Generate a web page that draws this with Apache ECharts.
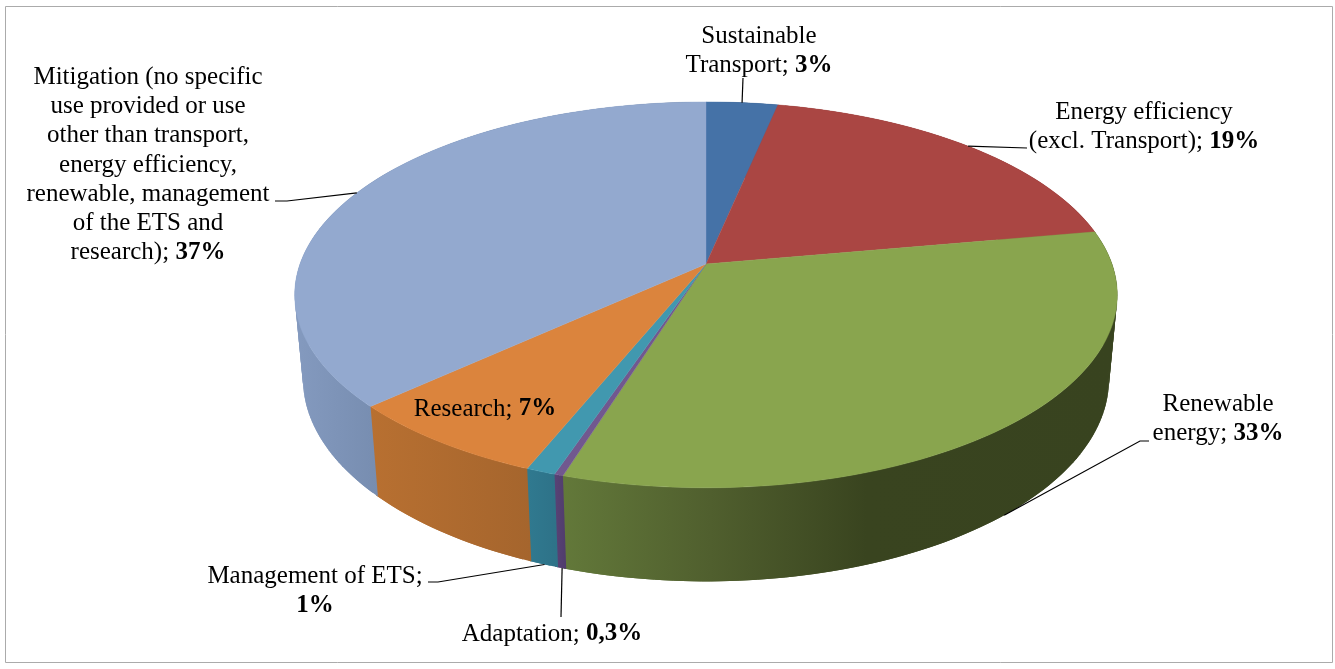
<!DOCTYPE html>
<html>
<head>
<meta charset="utf-8">
<title>Pie chart</title>
<style>
  html, body { margin: 0; padding: 0; background: #fff; }
  #pie-chart { width: 1335px; height: 669px; }
</style>
</head>
<body>
<div id="pie-chart"></div>
<script src="https://cdn.jsdelivr.net/npm/echarts@6/dist/echarts.min.js"></script>
<script>
// data
const labelNames = [
  'Sustainable\nTransport; ',
  'Energy efficiency\n(excl. Transport); ',
  'Renewable\nenergy; ',
  'Adaptation; ',
  'Management of ETS;\n',
  'Research; ',
  'Mitigation (no specific\nuse provided or use\nother than transport,\nenergy efficiency,\nrenewable, management\nof the ETS and\nresearch); '
];
const percentLabels = ['3%', '19%', '33%', '0,3%', '1%', '7%', '37%'];
const shares = [3.3, 19, 32.8, 0.3, 1, 7.1, 37];

// colours
const topColors = ['#4572A7', '#AA4643', '#89A54E', '#71588F', '#4198AF', '#DB843D', '#93A9CF'];
const sideStops = [
  [[0, '#3A5F8C'], [1, '#3A5F8C']],
  [[0, '#8E3A38'], [1, '#8E3A38']],
  [[0, '#63793A'], [0.27, '#505F2E'], [0.55, '#39441F'], [1, '#38431F']],
  [[0, '#5A4478'], [1, '#503C6C']],
  [[0, '#307A90'], [1, '#2E7288']],
  [[0, '#B87031'], [1, '#A5652D']],
  [[0, '#849ABF'], [0.2, '#778DB0'], [1, '#778DB0']]
];

// perspective of the disc: apex on screen, half sizes, tilt, thickness
const apexX = 706, apexY = 264;
const discA = 406, discB = 188, tilt = 0.16;
const depthY = 85, depthW = 0.02;

// label block centres and where each leader line goes after leaving the rim
const labelBoxes = [
  { x: 759, y: 51, to: [[743, 78]], front: false },
  { x: 1144, y: 127, to: [[1027, 148]], front: false },
  { x: 1218, y: 419, to: [[1140, 441], [1149, 441]], front: true },
  { x: 552, y: 634, to: [[561, 617]], front: true },
  { x: 315, y: 591, to: [[438, 582], [428, 582]], front: true },
  { x: 485, y: 409, to: null },
  { x: 148, y: 165, to: [[287, 201], [275, 201]], front: false }
];

const total = shares.reduce((a, b) => a + b, 0);

// project a point on the rim (angle clockwise from 12 o'clock), bottom=true for the lower disc
function rimPoint(angle, bottom) {
  const u = Math.sin(angle);
  const v = -Math.cos(angle);
  const w = 1 - tilt * v + (bottom ? depthW : 0);
  return [apexX + discA * u / w, apexY + (discB * v + (bottom ? depthY : 0)) / w];
}

function arcPoints(start, end, bottom) {
  const steps = Math.max(2, Math.ceil((end - start) / 0.02));
  const pts = [];
  for (let i = 0; i <= steps; i++) {
    pts.push(rimPoint(start + (end - start) * i / steps, bottom));
  }
  return pts;
}

function renderSlice(params, api) {
  const i = params.dataIndex;
  let before = 0;
  for (let k = 0; k < i; k++) before += shares[k];
  const start = before / total * Math.PI * 2;
  const end = (before + api.value(0)) / total * Math.PI * 2;
  const mid = (start + end) / 2;

  const topArc = arcPoints(start, end, false);
  // the wall runs a little past the slice, the next slice paints over it and no seam shows
  const wallTop = arcPoints(start, end + 0.006, false);
  const wallLow = arcPoints(start, end + 0.006, true);
  const children = [];

  // wall of the cylinder, overlapping quads so the tangent edges at the far left and right fill in
  const xs = wallTop.concat(wallLow).map(p => p[0]);
  const wallFill = {
    type: 'linear',
    global: true,
    x: Math.min.apply(null, xs),
    y: 0,
    x2: Math.max.apply(null, xs),
    y2: 0,
    colorStops: sideStops[i].map(s => ({ offset: s[0], color: s[1] }))
  };
  for (let s = 0; s < wallTop.length - 1; s++) {
    const e = Math.min(s + 2, wallTop.length - 1);
    children.push({
      type: 'polygon',
      z2: 1,
      shape: { points: [wallTop[s], wallTop[e], wallLow[e], wallLow[s]] },
      style: { fill: wallFill }
    });
  }

  // top face
  children.push({
    type: 'polygon',
    z2: 10,
    shape: { points: [[apexX, apexY]].concat(topArc) },
    style: { fill: topColors[i], stroke: topColors[i], lineWidth: 0.4 }
  });

  // leader line from the rim at the middle of the slice
  const box = labelBoxes[i];
  if (box.to) {
    children.push({
      type: 'polyline',
      z2: 20,
      shape: { points: [rimPoint(mid, box.front)].concat(box.to) },
      style: { fill: null, stroke: '#000', lineWidth: 1.2 }
    });
  }

  // label, the percentage is bold
  const rows = labelNames[i].split('\n');
  const last = rows.length - 1;
  const text = rows.map((row, r) => {
    const name = row ? '{n|' + row + '}' : '';
    return r === last ? name + '{b|' + percentLabels[i] + '}' : name;
  }).join('\n');
  children.push({
    type: 'text',
    z2: 30,
    style: {
      x: box.x,
      y: box.y,
      text: text,
      align: 'center',
      verticalAlign: 'middle',
      rich: {
        n: { fontFamily: 'Liberation Serif', fontSize: 25, lineHeight: 29.3, fill: '#000', color: '#000' },
        b: { fontFamily: 'Liberation Serif', fontSize: 25, lineHeight: 29.3, fontWeight: 'bold', fill: '#000', color: '#000' }
      }
    }
  });

  return { type: 'group', children: children };
}

const chart = echarts.init(document.getElementById('pie-chart'), null, { renderer: 'canvas' });
chart.setOption({
  animation: false,
  backgroundColor: '#fff',
  graphic: [{
    type: 'rect',
    silent: true,
    shape: { x: 5.5, y: 6.5, width: 1327, height: 656 },
    style: { fill: null, stroke: '#ababab', lineWidth: 1 }
  }],
  series: [{
    type: 'custom',
    coordinateSystem: 'none',
    renderItem: renderSlice,
    silent: true,
    data: shares.map(v => [v])
  }]
});
</script>
</body>
</html>
